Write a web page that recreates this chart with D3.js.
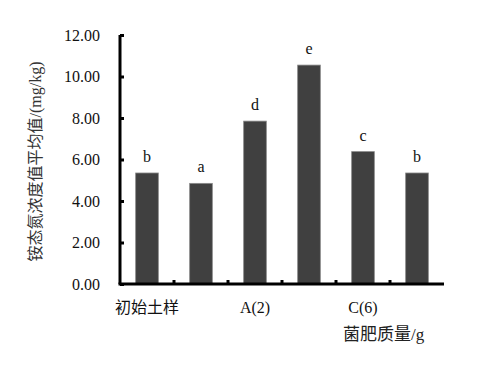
<!DOCTYPE html>
<html>
<head>
<meta charset="utf-8">
<script src="https://cdn.jsdelivr.net/npm/d3@7"></script>
<style>
  body { margin: 0; background: #fff; }
</style>
</head>
<body>
<div id="wrapper"></div>
<script>
// categories (only some show a label under the axis)
const categories = ["c0", "c1", "c2", "c3", "c4", "c5"]
const catLabels = ["初始土样", "", "A(2)", "", "C(6)", ""]
const values = [5.35, 4.85, 7.85, 10.55, 6.38, 5.35]
const letters = ["b", "a", "d", "e", "c", "b"]
const yTicks = [0, 2, 4, 6, 8, 10, 12]

const margin = {top: 35, right: 45, bottom: 83, left: 120},
    width = 489 - margin.left - margin.right,
    height = 367 - margin.top - margin.bottom;

const svg = d3.select("#wrapper")
    .append("svg")
    .attr("width", 489)
    .attr("height", 367)
    .append("g")
    .attr("transform", `translate(${margin.left},${margin.top})`);

const x = d3.scaleBand()
    .range([0, width])
    .domain(categories)
    .paddingInner(0.58)
    .paddingOuter(0.29)

const y = d3.scaleLinear()
    .range([height, 0])
    .domain([0, 12])

// bars
svg.selectAll(".bar")
    .data(values)
    .enter()
    .append("rect")
        .attr("class", "bar")
        .attr("x", function(d, i) { return x(categories[i]) })
        .attr("y", function(d) { return y(d) })
        .attr("width", x.bandwidth())
        .attr("height", function(d) { return height - y(d) })
        .style("fill", "#404040")
        .style("stroke", "#8a8a8a")
        .style("stroke-width", 0.8)

// significance letters
svg.selectAll(".letter")
    .data(values)
    .enter()
    .append("text")
        .attr("x", function(d, i) { return x(categories[i]) + x.bandwidth() / 2 })
        .attr("y", function(d) { return y(d) - 11 })
        .attr("text-anchor", "middle")
        .style("font-family", "'Liberation Serif', serif")
        .style("font-size", "16px")
        .style("fill", "#111")
        .text(function(d, i) { return letters[i] })

// y axis
const yAxis = svg.append("g")
    .call(d3.axisLeft(y).tickValues(yTicks).tickFormat(d3.format(".2f")).tickSize(-4).tickPadding(20))
yAxis.select(".domain").attr("stroke-width", 3).attr("d", `M0,0V${height}`)
yAxis.selectAll(".tick line").attr("stroke-width", 3)
yAxis.selectAll("text")
    .style("font-family", "'Liberation Serif', serif")
    .style("font-size", "16px")
    .style("fill", "#111")

// x axis: ticks between categories, pointing up
const between = d3.range(1, categories.length).map(function(i) { return x(categories[i]) - x.step() * x.paddingInner() / 2 })
const xAxis = svg.append("g")
    .attr("transform", `translate(0, ${height})`)
xAxis.append("path")
    .attr("d", `M-1.5,0H${width}`)
    .attr("stroke", "#000")
    .attr("stroke-width", 3)
xAxis.selectAll(".tk")
    .data(between)
    .enter()
    .append("line")
        .attr("x1", function(d) { return d })
        .attr("x2", function(d) { return d })
        .attr("y1", 0)
        .attr("y2", -4)
        .attr("stroke", "#000")
        .attr("stroke-width", 3)
xAxis.selectAll(".lbl")
    .data(catLabels)
    .enter()
    .append("text")
        .attr("x", function(d, i) { return x(categories[i]) + x.bandwidth() / 2 })
        .attr("y", 29)
        .attr("text-anchor", "middle")
        .style("font-family", "'Liberation Serif', 'Noto Sans CJK SC', serif")
        .style("font-size", "16px")
        .style("fill", "#111")
        .text(function(d) { return d })

// axis titles
svg.append("text")
    .attr("x", 223)
    .attr("y", height + 56)
    .style("font-family", "'Liberation Serif', 'Noto Sans CJK SC', serif")
    .style("font-size", "17px")
    .style("fill", "#222")
    .text("菌肥质量/g")

svg.append("text")
    .attr("transform", `translate(${-79}, ${y(6) + 2}) rotate(-90)`)
    .attr("text-anchor", "middle")
    .style("font-family", "'Liberation Serif', 'Noto Sans CJK SC', serif")
    .style("font-size", "16px")
    .style("fill", "#333")
    .text("铵态氮浓度值平均值/(mg/kg)")
</script>
</body>
</html>
